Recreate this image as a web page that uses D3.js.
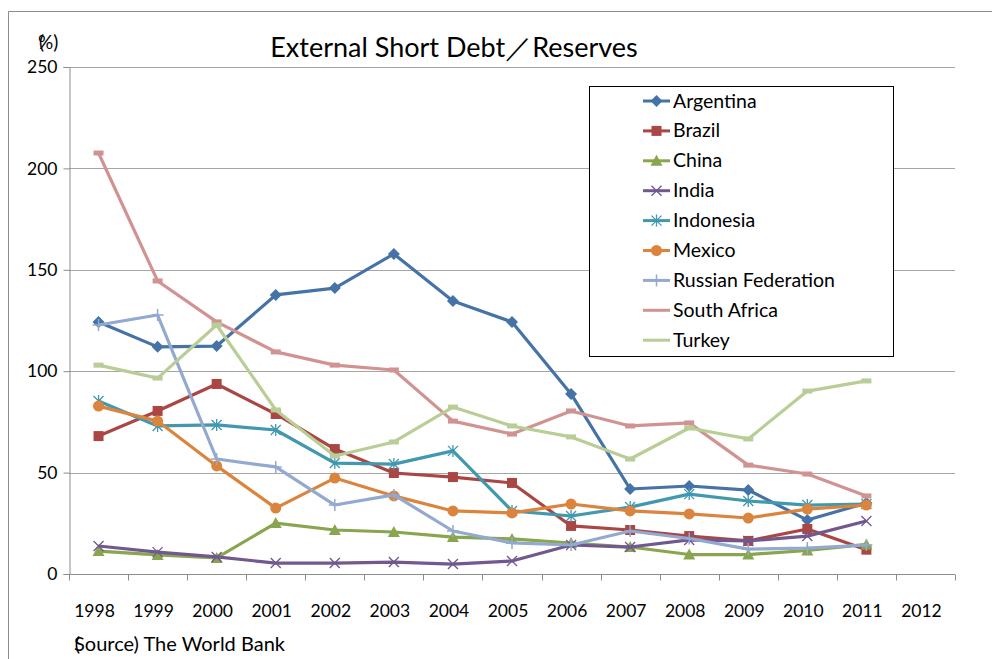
<!DOCTYPE html>
<html>
<head>
<meta charset="utf-8">
<script src="https://cdn.jsdelivr.net/npm/d3@7/dist/d3.min.js"></script>
<style>
  html, body { margin: 0; padding: 0; background: #fff; }
  svg { display: block; }
  text { font-family: Lato, "Open Sans", "Liberation Sans", sans-serif; fill: #000; }
</style>
</head>
<body>
<svg id="chart" width="992" height="659"></svg>
<script>
// Categories (x axis)
const years = ["1998","1999","2000","2001","2002","2003","2004","2005","2006","2007","2008","2009","2010","2011","2012"];
const yTicks = [0, 50, 100, 150, 200, 250];

// Short-term external debt as % of reserves, 1998–2011
const argentina = [124.3, 112.0, 112.4, 137.6, 141.0, 157.8, 134.6, 124.3, 88.8, 41.9, 43.4, 41.4, 26.6, 35.0];
const brazil    = [68.0, 80.4, 93.7, 78.9, 61.6, 49.8, 47.8, 44.9, 23.7, 21.7, 18.7, 16.3, 22.2, 12.0];
const china     = [11.3, 9.4, 7.9, 25.1, 21.7, 20.7, 18.2, 17.3, 15.3, 13.3, 9.6, 9.6, 11.6, 14.6];
const india     = [13.8, 10.8, 8.4, 5.4, 5.4, 5.9, 4.9, 6.4, 14.3, 13.3, 16.8, 16.3, 18.7, 26.1];
const indonesia = [85.3, 73.0, 73.5, 71.0, 54.7, 54.2, 60.7, 31.1, 28.6, 33.0, 39.4, 36.0, 34.0, 34.5];
const mexico    = [82.8, 75.4, 53.3, 32.5, 47.3, 38.5, 31.1, 30.1, 34.5, 31.1, 29.6, 27.6, 32.0, 34.0];
const russia    = [122.8, 127.7, 56.7, 52.8, 34.0, 39.0, 21.2, 15.3, 14.3, 21.2, 17.5, 12.3, 12.8, 14.3];
const southAfrica = [207.6, 144.5, 124.3, 109.5, 103.0, 100.6, 75.4, 69.0, 80.4, 73.0, 74.5, 53.7, 49.3, 38.5];
const turkey    = [103.0, 96.6, 122.8, 80.9, 58.2, 65.1, 82.3, 73.0, 67.6, 56.7, 72.0, 66.6, 90.2, 95.2];

const seriesNames = ["Argentina","Brazil","China","India","Indonesia","Mexico","Russian Federation","South Africa","Turkey"];
const seriesValues = [argentina, brazil, china, india, indonesia, mexico, russia, southAfrica, turkey];
const seriesColors = ["#4572A7","#AA4643","#89A54E","#71588F","#4198AF","#DB843D","#93A9CF","#D19392","#B9CD96"];
const seriesMarkers = ["diamond","square","triangle","x","asterisk","circle","plus","dash","dash"];

const svg = d3.select("#chart");

// Outer frame (top and left edges)
svg.append("line").attr("x1", 8.5).attr("x2", 992).attr("y1", 11.5).attr("y2", 11.5)
  .attr("stroke", "#8c8c8c").attr("stroke-width", 1);
svg.append("line").attr("x1", 8.5).attr("x2", 8.5).attr("y1", 11.5).attr("y2", 659)
  .attr("stroke", "#8c8c8c").attr("stroke-width", 1);

const plotLeft = 69, plotRight = 955, plotTop = 67, plotBottom = 574;

const x = d3.scaleBand().domain(years).range([plotLeft, plotRight]).padding(0);
const y = d3.scaleLinear().domain([0, 250]).range([plotBottom, plotTop]);
const cx = yr => x(yr) + x.bandwidth() / 2;

// Horizontal gridlines
svg.append("g").selectAll("line").data(yTicks.filter(d => d > 0)).join("line")
  .attr("x1", plotLeft).attr("x2", plotRight)
  .attr("y1", d => Math.round(y(d)) + 0.5).attr("y2", d => Math.round(y(d)) + 0.5)
  .attr("stroke", "#a6a6a6").attr("stroke-width", 1.2);

// Y axis
const yAxis = svg.append("g").attr("transform", `translate(${plotLeft + 0.5},0)`)
  .call(d3.axisLeft(y).tickValues(yTicks).tickSize(6).tickPadding(6).tickFormat(d3.format("d")));
yAxis.select(".domain").attr("stroke", "#8c8c8c");
yAxis.selectAll(".tick line").attr("stroke", "#8c8c8c");
yAxis.selectAll(".tick text").attr("font-size", 17.5).attr("font-family", "Lato, sans-serif").attr("fill", "#000");

// X axis: tick marks at category boundaries
const xAxisG = svg.append("g").attr("transform", `translate(0,${Math.round(plotBottom) + 0.5})`);
xAxisG.append("line").attr("x1", plotLeft).attr("x2", plotRight).attr("stroke", "#8c8c8c");
xAxisG.selectAll("line.tk").data(years.concat(["end"])).join("line").attr("class", "tk")
  .attr("x1", (d, i) => Math.round(plotLeft + i * x.bandwidth()) + 0.5)
  .attr("x2", (d, i) => Math.round(plotLeft + i * x.bandwidth()) + 0.5)
  .attr("y1", 0).attr("y2", 6).attr("stroke", "#8c8c8c");
xAxisG.selectAll("text").data(years).join("text")
  .attr("x", d => cx(d) - 4).attr("y", 42)
  .attr("text-anchor", "middle").attr("font-size", 17.5)
  .text(d => d);

// Title
svg.append("text").attr("x", 454).attr("y", 57).attr("text-anchor", "middle")
  .attr("font-size", 27).text("External Short Debt／Reserves");

// Unit label (the opening bracket sits over the percent sign)
svg.append("text").attr("x", 38).attr("y", 49).attr("font-size", 19)
  .attr("dx", "0 -6").text("(%)");

// Source note
svg.append("text").attr("x", 74).attr("y", 651).attr("font-size", 20)
  .attr("dx", "0 -6").text("(Source) The World Bank");

// Marker drawing
function drawMarker(g, type, color, px, py) {
  switch (type) {
    case "diamond":
      g.append("path").attr("d", `M${px},${py-6}L${px+6},${py}L${px},${py+6}L${px-6},${py}Z`).attr("fill", color);
      break;
    case "square":
      g.append("rect").attr("x", px-5).attr("y", py-5).attr("width", 10).attr("height", 10).attr("fill", color);
      break;
    case "triangle":
      g.append("path").attr("d", `M${px},${py-6}L${px+6},${py+5}L${px-6},${py+5}Z`).attr("fill", color);
      break;
    case "circle":
      g.append("circle").attr("cx", px).attr("cy", py).attr("r", 5.5).attr("fill", color);
      break;
    case "x":
      g.append("path").attr("d", `M${px-5},${py-5}L${px+5},${py+5}M${px-5},${py+5}L${px+5},${py-5}`)
        .attr("stroke", color).attr("stroke-width", 1.3);
      break;
    case "asterisk":
      g.append("path").attr("d", `M${px-5},${py-5}L${px+5},${py+5}M${px-5},${py+5}L${px+5},${py-5}M${px},${py-6}L${px},${py+6}`)
        .attr("stroke", color).attr("stroke-width", 1.3);
      break;
    case "plus":
      g.append("path").attr("d", `M${px-6},${py}L${px+6},${py}M${px},${py-6}L${px},${py+6}`)
        .attr("stroke", color).attr("stroke-width", 1.5);
      break;
    case "dash":
      g.append("rect").attr("x", px-5).attr("y", py-2.5).attr("width", 10).attr("height", 5).attr("fill", color);
      break;
  }
}

// Series lines and markers
const line = d3.line().x((d, i) => cx(years[i])).y(d => y(d));
const plot = svg.append("g");
seriesValues.forEach((vals, s) => {
  const g = plot.append("g");
  g.append("path").datum(vals).attr("d", line)
    .attr("fill", "none").attr("stroke", seriesColors[s]).attr("stroke-width", 3.2)
    .attr("stroke-linejoin", "round");
  vals.forEach((v, i) => drawMarker(g, seriesMarkers[s], seriesColors[s], cx(years[i]), y(v)));
});

// Legend
const lg = svg.append("g");
lg.append("rect").attr("x", 589.5).attr("y", 86.5).attr("width", 304).attr("height", 270)
  .attr("fill", "#fff").attr("stroke", "#000").attr("stroke-width", 1);
seriesNames.forEach((name, s) => {
  const ly = 101 + s * 29.9;
  const row = lg.append("g");
  row.append("line").attr("x1", 643).attr("x2", 670).attr("y1", ly).attr("y2", ly)
    .attr("stroke", seriesColors[s]).attr("stroke-width", 3);
  if (seriesMarkers[s] !== "dash") drawMarker(row, seriesMarkers[s], seriesColors[s], 656.5, ly);
  row.append("text").attr("x", 673).attr("y", ly + 6.5).attr("font-size", 19.5).text(name);
});
</script>
</body>
</html>
